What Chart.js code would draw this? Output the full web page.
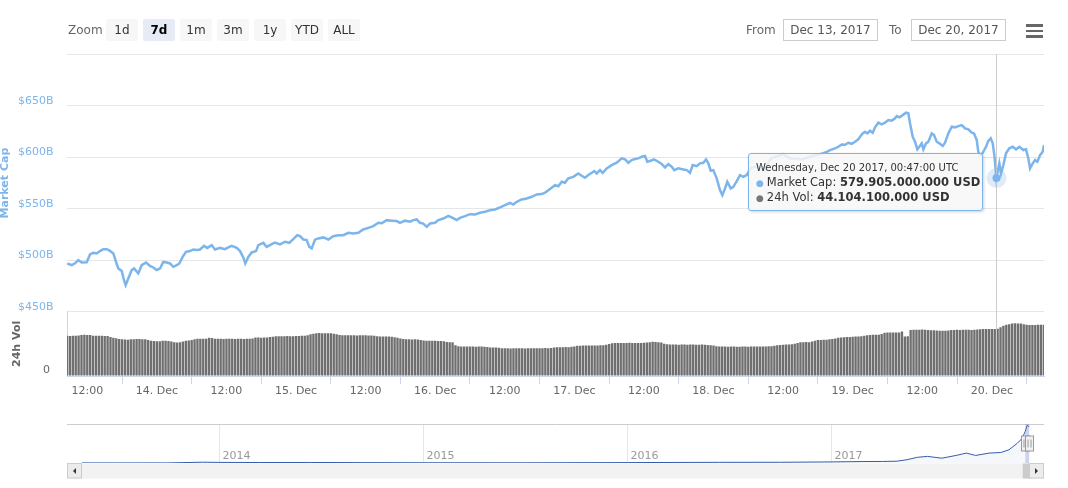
<!DOCTYPE html>
<html>
<head>
<meta charset="utf-8">
<script src="https://cdn.jsdelivr.net/npm/chart.js@4.4.1/dist/chart.umd.min.js"></script>
<style>
  body { margin: 0; background: #fff; font-family: 'DejaVu Sans', sans-serif; }
  #wrap { position: relative; width: 1068px; height: 488px; overflow: hidden; }
  canvas { position: absolute; left: 0; }
  #main { top: 0; }
  #nav { top: 420px; }
  .lbl { position: absolute; top: 19px; height: 22px; line-height: 22px; font-size: 12px; color: #666; }
  .btn { position: absolute; top: 19px; width: 32px; height: 22px; line-height: 22px; text-align: center;
         font-size: 12px; color: #333; background: #f7f7f7; border-radius: 2px; }
  .btn.sel { background: #e6ebf5; color: #000; font-weight: bold; }
  .inp { position: absolute; top: 19px; height: 20px; line-height: 20px; border: 1px solid #ccc; box-sizing: content-box;
         font-size: 12px; color: #555; text-align: center; }
  .bar { position: absolute; left: 1026px; width: 17px; height: 2.5px; background: #666; }
  #tip { position: absolute; left: 748px; top: 153px; width: 235px; height: 58px; box-sizing: border-box;
         border: 1px solid #7cb5ec; border-radius: 3px; background: rgba(247,247,247,0.85);
         box-shadow: 1px 1px 3px rgba(0,0,0,0.18); padding: 7px 0 0 7px; color: #333; white-space: nowrap; }
  #tip .h { font-size: 10px; height: 14px; line-height: 14px; }
  #tip .r { font-size: 11.5px; height: 15px; line-height: 15px; }
  #tip .d { font-size: 9px; margin-right: 3px; }
</style>
</head>
<body>
<div id="wrap">
  <canvas id="main" width="1068" height="410"></canvas>
  <canvas id="nav" width="1068" height="62"></canvas>

  <div class="lbl" style="left:68px">Zoom</div>
  <div class="btn" style="left:106px">1d</div>
  <div class="btn sel" style="left:143px">7d</div>
  <div class="btn" style="left:180px">1m</div>
  <div class="btn" style="left:217px">3m</div>
  <div class="btn" style="left:254px">1y</div>
  <div class="btn" style="left:291px">YTD</div>
  <div class="btn" style="left:328px">ALL</div>

  <div class="lbl" style="left:746px">From</div>
  <div class="inp" style="left:783px;width:93px">Dec 13, 2017</div>
  <div class="lbl" style="left:889px">To</div>
  <div class="inp" style="left:911px;width:93px">Dec 20, 2017</div>

  <div class="bar" style="top:24px"></div>
  <div class="bar" style="top:29.5px"></div>
  <div class="bar" style="top:35px"></div>

  <div id="tip">
    <div class="h" id="tipHead"></div>
    <div class="r"><span class="d" style="color:#7cb5ec">&#9679;</span>Market Cap: <b id="tipCap"></b></div>
    <div class="r"><span class="d" style="color:#777">&#9679;</span>24h Vol: <b id="tipVol"></b></div>
  </div>
</div>

<script>
// hours counted from Dec 13 2017 00:00 UTC, values in billions of USD
const hours = [
  8.55,9.31,9.88,10.45,11.04,11.9,12.47,13.04,13.62,14.19,
  14.76,15.35,15.92,16.49,16.95,17.35,17.93,18.33,18.62,19.07,
  19.66,20.06,20.8,21.38,22.13,22.82,23.38,23.97,24.54,25.11,
  25.7,26.26,26.83,27.42,27.87,28.45,29.02,29.71,30.28,30.87,
  31.44,32.13,32.7,33.46,34.03,34.89,35.75,36.32,36.91,37.77,
  38.34,38.91,39.25,39.77,40.36,41.1,41.5,42.36,42.94,43.81,
  44.37,45.24,46.1,46.84,47.53,48.22,48.69,49.26,49.84,50.29,
  50.7,51.27,51.84,52.71,53.57,54.43,55.29,56.15,57.02,57.88,
  58.74,59.6,60.47,61.33,62.19,62.78,63.64,64.5,65.36,65.93,
  66.8,67.66,68.23,68.81,69.38,69.95,70.54,71.11,71.97,72.54,
  73.4,74.26,75.02,75.71,76.28,77.14,78.01,78.87,79.73,80.59,
  81.45,82.32,83.18,84.04,84.9,85.47,86.06,86.92,87.78,88.65,
  89.51,90.37,90.94,91.8,92.67,93.24,93.82,94.39,94.96,95.82,
  96.68,97.27,97.84,98.41,99.0,99.44,99.86,100.43,100.89,101.58,
  102.45,103.31,104.17,104.74,105.31,105.89,106.46,107.03,107.62,108.19,
  108.59,109.17,109.74,110.48,111.07,111.64,112.21,112.79,113.24,113.93,
  114.79,115.38,115.95,116.41,117.1,117.67,118.24,118.71,119.11,119.52,
  119.97,120.55,121.12,121.52,121.99,122.38,122.97,123.42,124.01,124.57,
  125.14,125.73,126.37,127.56,128.71,129.92,131.99,133.2,135.27,137.06,
  138.84,139.53,140.1,140.96,141.53,142.11,142.68,143.25,143.84,144.41,
  144.98,145.27,145.74,146.13,146.53,147.0,147.46,147.86,148.43,149.01,
  149.58,150.15,150.74,151.31,151.6,152.05,152.64,153.21,153.6,153.9,
  154.36,154.76,155.15,155.5,155.91,156.19,156.65,157.05,157.64,158.03,
  158.5,158.95,159.53,159.93,160.5,161.09,161.66,162.23,162.81,163.38,
  163.95,164.54,164.93,165.4,165.67,165.97,166.43,167.0,167.4,167.81,
  168.16,168.43,168.62,168.78,169.3,169.59,169.99,170.45,171.02,171.61,
  172.18,172.75,173.44,173.9,174.3,174.59,175.06,175.45,175.85,176.32,
  176.78,177.0
];
const marketCap = [
  496.9,495.2,497.0,500.1,497.8,498.0,505.6,507.2,506.6,508.9,
  510.8,510.8,509.1,506.6,498.4,492.0,489.7,480.6,475.8,482.3,
  490.4,492.0,487.2,495.2,497.8,494.5,493.0,490.4,492.0,498.4,
  497.8,496.9,493.6,495.2,496.9,503.3,508.2,508.9,510.5,510.0,
  510.5,514.0,512.0,514.7,510.5,512.0,510.8,512.5,514.0,512.0,
  508.9,502.7,496.9,503.3,507.6,508.9,514.7,516.9,513.0,515.7,
  517.2,515.4,518.0,517.0,520.5,524.4,523.5,520.2,519.6,513.0,
  511.5,520.0,521.2,522.2,520.2,523.4,524.4,524.4,526.7,526.0,
  526.7,529.9,531.5,533.2,536.4,536.0,539.0,538.5,538.1,536.4,
  538.5,537.5,539.0,539.7,536.4,535.7,532.5,535.7,536.4,539.0,
  540.6,543.2,541.2,539.0,541.2,542.9,544.8,544.5,546.1,547.1,
  548.7,549.4,551.4,553.6,555.8,554.2,556.8,559.1,560.1,561.7,
  564.0,564.3,565.6,569.3,573.0,572.0,576.3,575.3,579.6,581.1,
  584.4,582.2,580.2,582.8,585.0,586.7,584.4,587.6,585.0,589.3,
  592.5,594.8,599.0,598.1,594.8,597.4,598.4,599.0,600.6,601.3,
  595.8,596.7,598.0,595.8,593.5,590.2,593.5,590.9,587.6,589.3,
  588.3,587.6,585.0,592.5,591.5,594.2,594.8,598.0,594.2,587.0,
  587.6,579.6,568.2,563.3,569.8,576.3,569.8,571.3,576.9,582.8,
  581.1,582.8,589.3,591.8,588.0,599.0,603.2,599.0,598.0,601.3,
  603.9,605.4,607.1,608.8,610.3,612.6,612.3,614.2,613.2,615.2,
  617.5,620.0,623.3,624.9,623.3,625.9,623.9,629.2,633.7,632.1,
  633.7,636.3,635.7,637.9,640.2,638.9,641.1,643.4,642.8,633.0,
  620.0,615.2,607.8,610.3,613.6,607.8,613.6,615.2,623.3,621.7,
  615.2,613.6,611.0,614.2,623.3,629.8,629.2,630.4,631.4,628.2,
  627.2,624.0,623.3,616.8,605.4,602.2,604.4,610.3,616.1,618.5,
  613.6,602.2,590.9,579.9,594.2,584.4,592.5,603.9,608.8,610.3,
  607.8,610.3,607.1,607.8,599.0,589.3,594.2,597.4,595.8,602.2,
  605.4,612.0
];

// 24h volume, one bar every half hour from 08:30 on Dec 13
const volStart = 8.5;
const volStep = 0.5;
const volume = [
  37.5,37.3,37.6,37.5,37.8,38.2,38.4,38.2,38.3,37.6,37.5,37.5,37.5,37.4,37.4,36.3,35.8,35.2,34.6,
  34.2,34.0,33.8,34.3,34.4,34.5,34.5,34.4,34.2,33.6,
  32.8,32.6,32.5,32.4,32.8,33.0,32.6,32.2,31.6,31.2,31.4,
  32.2,32.8,33.2,33.6,34.2,34.7,34.8,34.7,34.7,35.6,35.4,
  34.8,34.7,34.7,34.6,34.7,34.7,34.7,34.6,34.7,34.7,34.6,34.7,34.8,35.0,
  35.9,35.9,35.8,35.9,36.0,36.3,36.6,
  37.2,37.2,37.1,37.2,37.3,37.2,37.2,37.3,37.4,37.5,37.6,38.0,
  39.0,39.4,40.0,40.1,40.0,40.0,39.9,39.8,39.5,39.0,
  38.2,38.0,38.0,38.1,38.0,38.0,37.8,38.0,38.1,38.0,37.8,37.7,37.5,37.2,
  36.9,36.9,36.8,36.9,36.7,36.2,35.6,
  34.9,34.5,34.2,34.2,34.1,34.2,34.0,33.6,33.2,
  32.8,32.8,32.9,32.8,32.7,32.6,32.4,31.8,31.6,31.4,
  28.6,27.8,27.5,27.5,27.6,27.5,27.5,27.4,27.5,27.5,27.3,27.0,
  26.7,26.6,26.5,26.3,
  25.9,25.8,25.8,25.7,25.8,25.9,25.8,25.8,25.7,25.8,25.8,25.9,25.9,25.9,26.0,26.1,26.0,26.2,
  26.5,26.8,26.9,26.9,27.0,26.9,27.2,27.6,
  28.2,28.3,28.4,28.4,28.5,28.4,28.4,28.5,28.6,28.8,29.2,29.8,
  30.6,30.8,30.9,30.9,30.8,30.9,31.0,30.9,30.9,30.9,30.8,31.0,31.2,
  31.6,31.9,31.7,31.5,31.3,
  30.2,29.6,29.4,29.3,29.3,29.2,29.3,29.3,29.2,29.3,29.3,29.2,29.2,29.3,29.2,29.0,28.8,28.4,
  27.8,27.6,27.5,27.5,27.4,27.5,27.5,27.4,27.4,27.5,27.5,27.4,27.5,27.5,27.6,27.5,27.5,27.6,27.7,27.8,28.2,28.6,
  29.0,29.2,29.3,29.4,29.6,30.2,30.8,
  31.4,31.6,31.7,31.6,32.2,32.8,
  33.5,33.7,33.8,33.9,34.2,34.6,35.1,35.6,
  36.0,36.1,36.3,36.5,36.6,36.8,36.9,37.2,37.6,
  38.1,38.3,38.4,38.5,38.6,39.2,
  40.3,40.6,40.6,40.7,40.6,40.6,41.6,36.9,37.0,
  42.9,43.1,43.2,43.1,43.3,43.1,43.0,42.8,42.6,42.4,
  42.2,42.2,42.3,42.4,
  42.9,43.0,43.1,43.0,43.1,43.2,43.1,43.0,43.2,43.4,
  43.7,43.8,43.8,43.9,43.8,43.9,44.1,45.6,46.8,47.8,48.3,49.0,49.2,49.1,49.0,
  48.2,47.9,47.7,47.5,47.6,47.8,47.8,47.9
];

const xTicks = [12, 24, 36, 48, 60, 72, 84, 96, 108, 120, 132, 144, 156, 168];
const capTicks = [450, 500, 550, 600, 650, 700];

// hovered point shown in the tooltip
const hoverHour = 168.78;
const hoverCap = 579.905;
const hoverVol = 44.1041;
const hoverLabel = 'Wednesday, Dec 20 2017, 00:47:00 UTC';

// navigator: whole history, x in decimal years, values in billions
const navYears = [2013.33, 2013.5, 2013.75, 2013.92, 2014.0, 2014.2, 2014.45, 2014.7, 2015.0, 2015.5,
  2016.0, 2016.45, 2016.75, 2017.0, 2017.15, 2017.25, 2017.32, 2017.37, 2017.42, 2017.47,
  2017.54, 2017.61, 2017.66, 2017.706, 2017.772, 2017.829, 2017.869, 2017.91, 2017.934, 2017.948,
  2017.959, 2017.968];
const navCap = [1.5, 1.2, 1.8, 13, 10, 8, 9, 6, 4, 3.5,
  7, 11, 12, 18, 24, 26, 30, 55, 95, 110,
  80, 126, 165, 126, 165, 175, 220, 330, 413, 522,
  633, 600];
const yearTicks = [2014, 2015, 2016, 2017];
const rangeFrom = 2017.949;
const rangeTo = 2017.968;

Chart.defaults.font.family = "'DejaVu Sans', sans-serif";
Chart.defaults.font.size = 11;

function fmtUsd(b) {
  return Math.round(b * 1e9).toString().replace(/\B(?=(\d{3})+(?!\d))/g, '.') + ' USD';
}
document.getElementById('tipHead').textContent = hoverLabel;
document.getElementById('tipCap').textContent = fmtUsd(hoverCap);
document.getElementById('tipVol').textContent = fmtUsd(hoverVol);

const capPoints = hours.map((h, i) => ({ x: h, y: marketCap[i] }));
const volPoints = volume.map((v, i) => ({ x: volStart + i * volStep, y: v }));

const crosshair = {
  id: 'crosshair',
  afterDatasetsDraw(chart) {
    const { ctx, chartArea, scales } = chart;
    const x = Math.round(scales.x.getPixelForValue(hoverHour)) + 0.5;
    const y = scales.y.getPixelForValue(hoverCap);
    ctx.save();
    ctx.strokeStyle = '#cccccc';
    ctx.lineWidth = 1;
    ctx.beginPath();
    ctx.moveTo(x, chartArea.top);
    ctx.lineTo(x, chartArea.bottom);
    ctx.stroke();
    ctx.fillStyle = 'rgba(124,181,236,0.25)';
    ctx.beginPath();
    ctx.arc(x, y, 10, 0, Math.PI * 2);
    ctx.fill();
    ctx.fillStyle = '#7cb5ec';
    ctx.beginPath();
    ctx.arc(x, y, 4, 0, Math.PI * 2);
    ctx.fill();
    ctx.restore();
  }
};

new Chart(document.getElementById('main'), {
  type: 'line',
  data: {
    datasets: [
      { type: 'line', data: capPoints, yAxisID: 'y', borderColor: '#7cb5ec', borderWidth: 2.5,
        pointRadius: 0, tension: 0, order: 1 },
      { type: 'bar', data: volPoints, yAxisID: 'yv', backgroundColor: '#6f6f6f',
        barPercentage: 0.82, categoryPercentage: 1, order: 2 }
    ]
  },
  options: {
    responsive: false,
    animation: false,
    events: [],
    layout: { padding: { top: 54.5, right: 24, left: 0, bottom: 0 } },
    plugins: { legend: { display: false }, tooltip: { enabled: false } },
    scales: {
      x: {
        type: 'linear', min: 8.5, max: 177, offset: false,
        afterBuildTicks: s => { s.ticks = xTicks.map(v => ({ value: v })); },
        afterFit: s => { s.height = 34; },
        ticks: {
          color: '#666', maxRotation: 0, autoSkip: false, padding: 1,
          callback: v => v % 24 === 0 ? (13 + v / 24) + '. Dec' : '12:00'
        },
        grid: { drawOnChartArea: false, tickLength: 8, color: '#ccd6eb' },
        border: { color: '#ccd6eb' }
      },
      y: {
        position: 'left', stack: 'panes', stackWeight: 4, weight: 2,
        min: 450, max: 700,
        afterBuildTicks: s => { s.ticks = capTicks.map(v => ({ value: v })); },
        afterFit: s => { s.width = 67; },
        ticks: { color: '#7cb5ec', padding: 13.5, labelOffset: -5,
                 callback: v => v === 700 ? '' : '$' + v + 'B' },
        grid: { color: '#e6e6e6', drawTicks: false },
        border: { display: false },
        title: { display: true, text: 'Market Cap', color: '#7cb5ec',
                 font: { size: 11, weight: 'bold' }, padding: { top: -1, bottom: 0 } }
      },
      yv: {
        position: 'left', stack: 'panes', stackWeight: 1, weight: 1,
        min: 0, max: 60,
        afterBuildTicks: s => { s.ticks = [{ value: 0 }, { value: 60 }]; },
        afterFit: s => { s.width = 67; },
        ticks: { color: '#666', padding: 17, labelOffset: -6, callback: v => v === 0 ? '0' : '' },
        grid: { color: '#e6e6e6', drawTicks: false },
        border: { color: '#ccd6eb' },
        title: { display: true, text: '24h Vol', color: '#666',
                 font: { size: 11, weight: 'bold' }, padding: { top: 10.5, bottom: 0 } }
      }
    }
  },
  plugins: [crosshair]
});

const navigatorParts = {
  id: 'navigatorParts',
  beforeDatasetsDraw(chart) {
    const { ctx, chartArea, scales } = chart;
    ctx.save();
    ctx.strokeStyle = '#e6e6e6';
    ctx.lineWidth = 1;
    ctx.fillStyle = '#999';
    ctx.font = "11px 'DejaVu Sans', sans-serif";
    ctx.textBaseline = 'middle';
    yearTicks.forEach(yr => {
      const x = Math.round(scales.x.getPixelForValue(yr)) + 0.5;
      ctx.beginPath();
      ctx.moveTo(x, chartArea.top);
      ctx.lineTo(x, chartArea.bottom);
      ctx.stroke();
      ctx.fillText(String(yr), x + 3, chartArea.bottom - 7);
    });
    ctx.restore();
  },
  afterDatasetsDraw(chart) {
    const { ctx, chartArea, scales } = chart;
    const top = chartArea.top, bottom = chartArea.bottom;
    const xs = scales.x.getPixelForValue(rangeFrom);
    const xe = scales.x.getPixelForValue(rangeTo);
    ctx.save();
    // outline
    ctx.strokeStyle = '#cccccc';
    ctx.lineWidth = 1;
    ctx.beginPath();
    ctx.moveTo(67, top + 0.5);
    ctx.lineTo(1044, top + 0.5);
    ctx.stroke();
    // selected range
    ctx.fillStyle = 'rgba(102,133,194,0.3)';
    ctx.fillRect(xs, top, xe - xs, bottom - top);
    // scrollbar
    const sy = bottom + 0.5, sh = 15;
    ctx.fillStyle = '#f2f2f2';
    ctx.fillRect(67, sy, 977, sh);
    const tw = Math.max(xe - xs, 9);
    ctx.fillStyle = '#cccccc';
    ctx.fillRect((xs + xe) / 2 - tw / 2, sy, tw, sh);
    [[67.5, 1], [1029.5, -1]].forEach(([bx, dir]) => {
      ctx.fillStyle = '#ececec';
      ctx.fillRect(bx, sy, 14, sh - 0.5);
      ctx.strokeStyle = '#cccccc';
      ctx.strokeRect(bx, sy, 14, sh - 0.5);
      const cx = bx + 7, cy = sy + sh / 2;
      ctx.fillStyle = '#333';
      ctx.beginPath();
      ctx.moveTo(cx - 1.5 * dir, cy);
      ctx.lineTo(cx + 1.5 * dir, cy - 3);
      ctx.lineTo(cx + 1.5 * dir, cy + 3);
      ctx.closePath();
      ctx.fill();
    });
    // handles
    const hy = (top + bottom) / 2;
    [xs, xe].forEach(hx => {
      const x0 = Math.round(hx - 4) + 0.5;
      ctx.fillStyle = '#f2f2f2';
      ctx.strokeStyle = '#999999';
      ctx.fillRect(x0, hy - 7.5, 8, 15);
      ctx.strokeRect(x0, hy - 7.5, 8, 15);
      ctx.beginPath();
      ctx.moveTo(x0 + 2.5, hy - 4);
      ctx.lineTo(x0 + 2.5, hy + 4);
      ctx.moveTo(x0 + 5.5, hy - 4);
      ctx.lineTo(x0 + 5.5, hy + 4);
      ctx.stroke();
    });
    ctx.restore();
  }
};

new Chart(document.getElementById('nav'), {
  type: 'line',
  data: {
    datasets: [{
      data: navYears.map((t, i) => ({ x: t, y: navCap[i] })),
      borderColor: '#335cad', borderWidth: 1, backgroundColor: 'rgba(51,92,173,0.05)',
      fill: 'origin', pointRadius: 0, tension: 0
    }]
  },
  options: {
    responsive: false,
    animation: false,
    events: [],
    layout: { padding: { left: 82, right: 38, top: 4, bottom: 19 } },
    plugins: { legend: { display: false }, tooltip: { enabled: false } },
    scales: {
      x: { type: 'linear', display: false, min: 2013.33, max: 2017.972 },
      y: { display: false, min: 0, max: 650 }
    }
  },
  plugins: [navigatorParts]
});
</script>
</body>
</html>
